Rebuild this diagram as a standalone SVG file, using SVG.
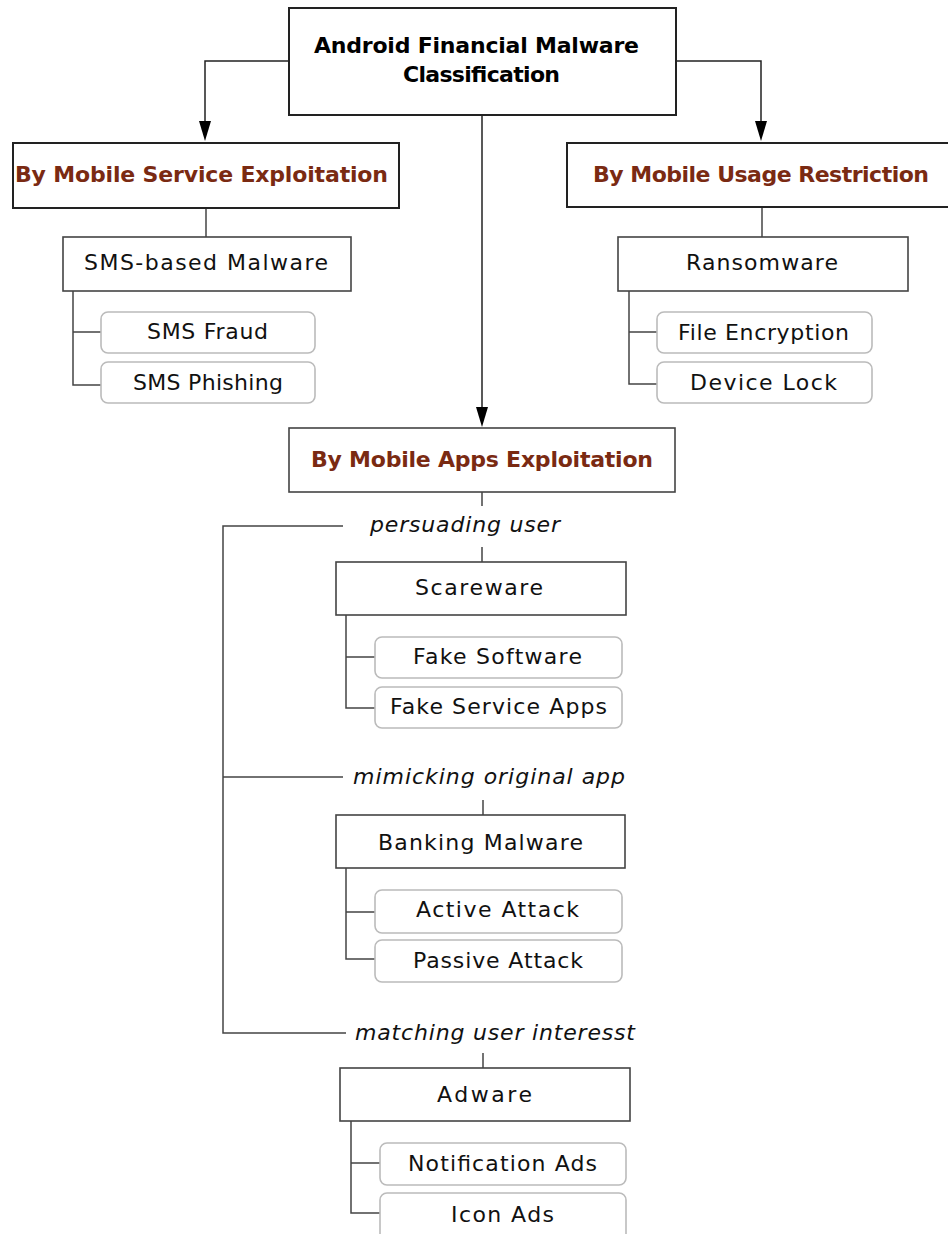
<svg xmlns="http://www.w3.org/2000/svg" width="948" height="1234" viewBox="0 0 948 1234">
<style>
.bg{fill:#fff}
.main{fill:#fff;stroke:#222;stroke-width:2}
.cat{fill:#fff;stroke:#444;stroke-width:1.6}
.sub{fill:#fff;stroke:#bbb;stroke-width:1.6}
.ln{fill:none;stroke:#444;stroke-width:1.5}
.ar{fill:none;stroke:#222;stroke-width:1.5}
.head{fill:#000}
text{font-family:"DejaVu Sans","Liberation Sans",sans-serif;fill:#111}
.t{font-weight:bold;font-size:22px;fill:#000}
.h{font-weight:bold;font-size:22px;fill:#7a2a12}
.n{font-size:22px}
.i{font-size:22px;font-style:italic}
</style>
<rect class="bg" x="0" y="0" width="948" height="1234"/>
<g id="connectors">
<path class="ar" d="M289,61 H205 V121"/>
<path class="head" d="M199,121 L211,121 L205,141 Z"/>
<path class="ar" d="M676,61 H761 V121"/>
<path class="head" d="M755,121 L767,121 L761,141 Z"/>
<path class="ar" d="M482,115 V407"/>
<path class="head" d="M476,407 L488,407 L482,427 Z"/>
<path class="ln" d="M206,208 V237"/>
<path class="ln" d="M73,291 V385 H101 M73,332 H101"/>
<path class="ln" d="M762,207 V237"/>
<path class="ln" d="M629,291 V384 H657 M629,332 H657"/>
<path class="ln" d="M482,492 V506 M482,547 V562"/>
<path class="ln" d="M343,526 H223 V1033 H346 M223,777 H343"/>
<path class="ln" d="M346,615 V708 H375 M346,657 H375"/>
<path class="ln" d="M483,800 V815"/>
<path class="ln" d="M346,868 V959 H375 M346,912 H375"/>
<path class="ln" d="M483,1053 V1068"/>
<path class="ln" d="M351,1121 V1213 H380 M351,1163 H380"/>
</g>
<g id="root">
<rect class="main" x="289" y="8" width="387" height="107"/>
<text class="t" x="314" y="53" textLength="325">Android Financial Malware</text>
<text class="t" x="403" y="82" textLength="157">Classification</text>
</g>
<g id="service">
<rect class="main" x="13" y="143" width="386" height="65"/>
<text class="h" x="15" y="182" textLength="373">By Mobile Service Exploitation</text>
</g>
<g id="usage">
<rect class="main" x="567" y="143" width="390" height="64"/>
<text class="h" x="593" y="182" textLength="336">By Mobile Usage Restriction</text>
</g>
<g id="apps">
<rect class="cat" x="289" y="428" width="386" height="64"/>
<text class="h" x="311" y="467" textLength="342">By Mobile Apps Exploitation</text>
</g>
<g id="sms">
<rect class="cat" x="63" y="237" width="288" height="54"/>
<text class="n" x="84" y="270" textLength="244">SMS-based Malware</text>
</g>
<g id="smsfraud">
<rect class="sub" x="101" y="312" width="214" height="41" rx="7"/>
<text class="n" x="147" y="339" textLength="121">SMS Fraud</text>
</g>
<g id="smsphishing">
<rect class="sub" x="101" y="362" width="214" height="41" rx="7"/>
<text class="n" x="133" y="390" textLength="150">SMS Phishing</text>
</g>
<g id="ransomware">
<rect class="cat" x="618" y="237" width="290" height="54"/>
<text class="n" x="686" y="270" textLength="152">Ransomware</text>
</g>
<g id="fileenc">
<rect class="sub" x="657" y="312" width="215" height="41" rx="7"/>
<text class="n" x="678" y="340" textLength="171">File Encryption</text>
</g>
<g id="devicelock">
<rect class="sub" x="657" y="362" width="215" height="41" rx="7"/>
<text class="n" x="690" y="390" textLength="147">Device Lock</text>
</g>
<g id="lbl-persuading">
<text class="i" x="370" y="532" textLength="190">persuading user</text>
</g>
<g id="scareware">
<rect class="cat" x="336" y="562" width="290" height="53"/>
<text class="n" x="415" y="595" textLength="128">Scareware</text>
</g>
<g id="fakesoftware">
<rect class="sub" x="375" y="637" width="247" height="41" rx="7"/>
<text class="n" x="413" y="664" textLength="169">Fake Software</text>
</g>
<g id="fakeservice">
<rect class="sub" x="375" y="687" width="247" height="41" rx="7"/>
<text class="n" x="390" y="714" textLength="217">Fake Service Apps</text>
</g>
<g id="lbl-mimicking">
<text class="i" x="353" y="784" textLength="272">mimicking original app</text>
</g>
<g id="banking">
<rect class="cat" x="336" y="815" width="289" height="53"/>
<text class="n" x="378" y="850" textLength="205">Banking Malware</text>
</g>
<g id="active">
<rect class="sub" x="375" y="890" width="247" height="43" rx="7"/>
<text class="n" x="416" y="917" textLength="163">Active Attack</text>
</g>
<g id="passive">
<rect class="sub" x="375" y="940" width="247" height="42" rx="7"/>
<text class="n" x="413" y="968" textLength="170">Passive Attack</text>
</g>
<g id="lbl-matching">
<text class="i" x="355" y="1040" textLength="280">matching user interesst</text>
</g>
<g id="adware">
<rect class="cat" x="340" y="1068" width="290" height="53"/>
<text class="n" x="437" y="1102" textLength="95">Adware</text>
</g>
<g id="notif">
<rect class="sub" x="380" y="1143" width="246" height="42" rx="7"/>
<text class="n" x="408" y="1171" textLength="189">Notification Ads</text>
</g>
<g id="icon">
<rect class="sub" x="380" y="1193" width="246" height="50" rx="7"/>
<text class="n" x="451" y="1222" textLength="103">Icon Ads</text>
</g>
</svg>
